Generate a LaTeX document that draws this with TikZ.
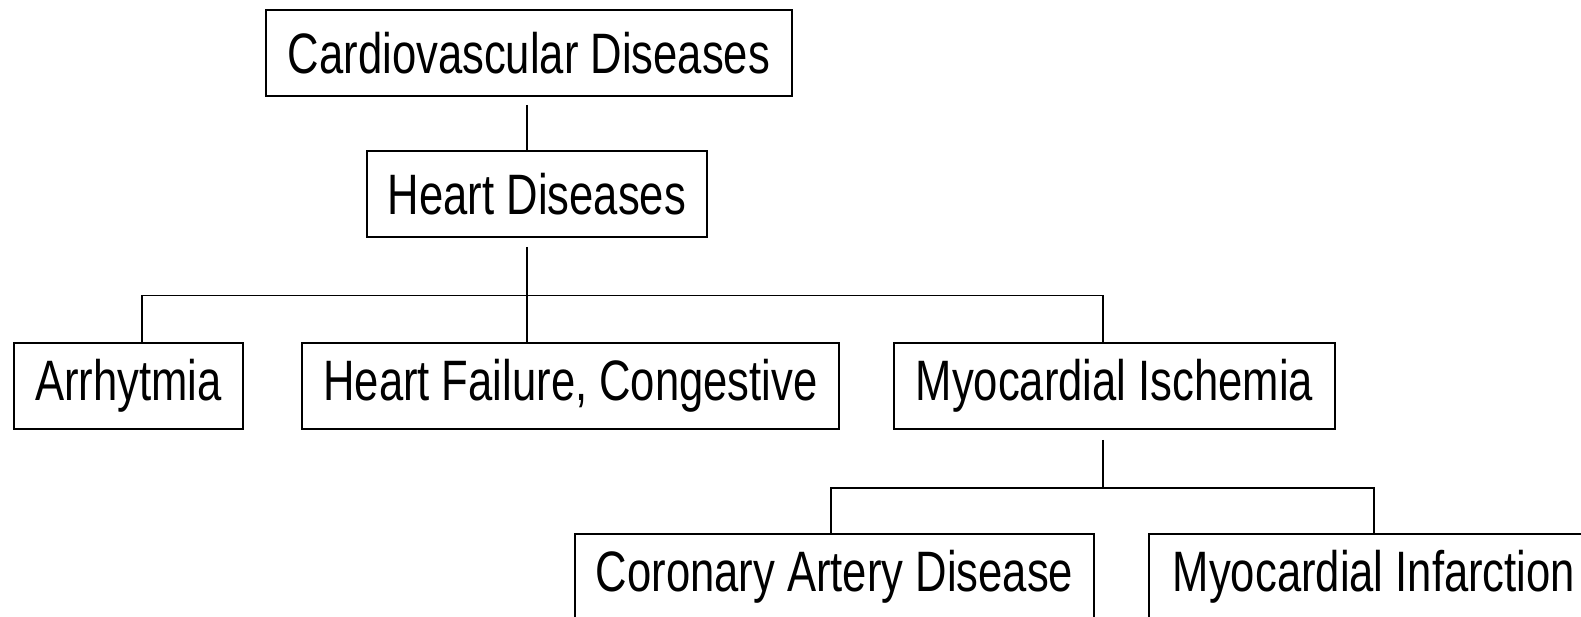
\documentclass[tikz,border=0pt]{standalone}
\usepackage{fontspec}
\setmainfont{Liberation Sans}[FakeStretch=0.765]
\begin{document}
\begin{tikzpicture}[x=1pt,y=-1pt,
  box/.style={draw=black, line width=1.8pt, inner sep=0pt, minimum height=86pt,
    font=\fontsize{57}{60}\selectfont, anchor=center},
  conn/.style={draw=black, line width=1.8pt}]
\useasboundingbox (0,0) rectangle (1581,617);
\node[box, minimum width=526pt] (cv) at (529,53) {Cardiovascular Diseases};
\node[box, minimum width=340pt] (hd) at (537,194) {Heart Diseases};
\node[box, minimum width=229pt] (ar) at (128.5,386) {Arrhytmia};
\node[box, minimum width=537pt] (hf) at (570.5,386) {Heart Failure, Congestive};
\node[box, minimum width=441pt] (mi) at (1114.5,386) {Myocardial Ischemia};
\node[box, minimum width=519pt] (cad) at (834.5,577) {Coronary Artery Disease};
\node[box, minimum width=450pt] (inf) at (1374,577) {Myocardial Infarction};
% trunk positions
\coordinate (t1) at (527,0);
\coordinate (t2) at (1103,0);
\coordinate (bar1) at (0,295.5);
\coordinate (bar2) at (0,488);
\coordinate (xa) at (142,0);
\coordinate (xc) at (831,0);
\coordinate (xi) at (1374,0);
% connectors
\draw[conn] ([yshift=-8pt]cv.south -| t1) -- (hd.north -| t1);
\draw[conn] ([yshift=-9pt]hd.south -| t1) -- (hf.north -| t1);
\draw[conn] (ar.north -| xa) -- (bar1 -| xa) -- (bar1 -| t2) -- (mi.north -| t2);
\draw[conn] ([yshift=-10pt]mi.south -| t2) -- (bar2 -| t2);
\draw[conn] (cad.north -| xc) -- (bar2 -| xc) -- (bar2 -| xi) -- (inf.north -| xi);
\end{tikzpicture}
\end{document}
